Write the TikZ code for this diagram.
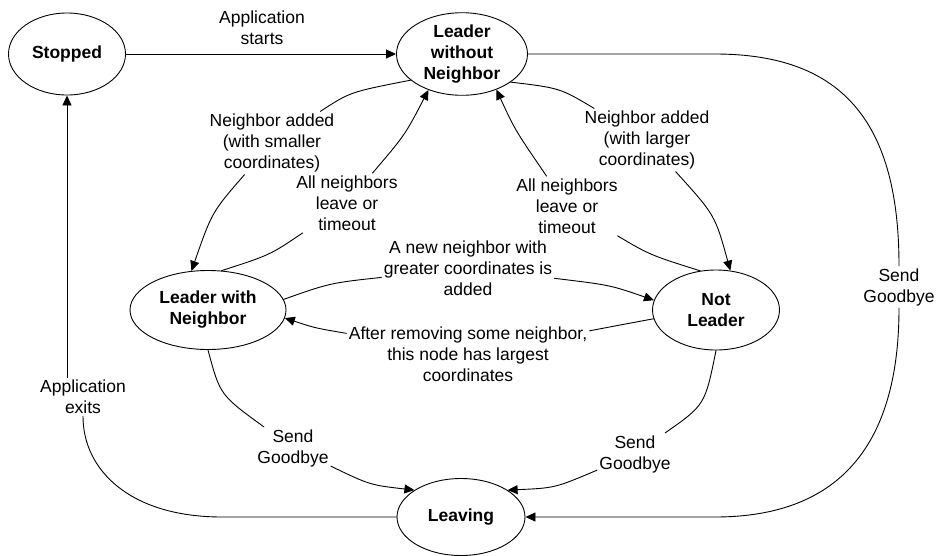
\documentclass[tikz,border=0pt]{standalone}
\usepackage{fontspec}
\setmainfont{Liberation Sans}
\usepackage{tikz}
\usetikzlibrary{shapes.geometric}
\usetikzlibrary{arrows.meta}

\begin{document}
\begin{tikzpicture}[line cap=round,line join=round,>={Triangle[length=10pt,width=9pt]},x=1pt,y=1pt,line width=0.9pt,
stnode/.style={draw,ellipse,inner sep=0pt,align=center,font=\fontsize{17.5}{21}\selectfont\bfseries},
lbl/.style={fill=white,inner sep=2pt,align=center,font=\fontsize{17.5}{21}\selectfont}]
\useasboundingbox (0,0) rectangle (937,-555);
\node[stnode,minimum width=117pt,minimum height=82pt] (stopped) at (67,-54) {Stopped};
\node[stnode,minimum width=131pt,minimum height=79pt] (lwon) at (462,-54) {Leader\\without\\Neighbor};
\node[stnode,minimum width=156pt,minimum height=79pt] (lwn) at (208,-310) {Leader with\\Neighbor};
\node[stnode,minimum width=127pt,minimum height=80pt] (nl) at (716,-310) {Not\\Leader};
\node[stnode,minimum width=128pt,minimum height=77pt] (leaving) at (461,-517) {Leaving};
\node[lbl] (lStart) at (262,-28) {Application\\starts};
\node[lbl] (lSmall) at (272,-143) {Neighbor added\\(with smaller\\coordinates)};
\node[lbl] (lLeaveL) at (347,-203) {All neighbors\\leave or\\timeout};
\node[lbl] (lLarge) at (647,-140) {Neighbor added\\(with larger\\coordinates)};
\node[lbl] (lLeaveR) at (567,-206) {All neighbors\\leave or\\timeout};
\node[lbl] (lNew) at (468,-268) {A new neighbor with\\greater coordinates is\\added};
\node[lbl] (lRemove) at (468,-354) {After removing some neighbor,\\this node has largest\\coordinates};
\node[lbl] (lByeL) at (293,-448) {Send\\Goodbye};
\node[lbl] (lByeM) at (635,-454) {Send\\Goodbye};
\node[lbl] (lByeR) at (899,-287) {Send\\Goodbye};
\node[lbl] (lExit) at (83,-397) {Application\\exits};
\coordinate (exitturn) at (222,-517);
\coordinate (byeturnA) at (715,-54);
\coordinate (byeturnB) at (715,-517);
\draw[->] (stopped) -- (lwon);
\draw (lwon.207) .. controls (350,-92) .. (lSmall);
\draw[->] (lSmall) .. controls (212,-212) .. (lwn.113);
\draw (lwn.71) .. controls (270,-255) .. (lLeaveL);
\draw[->] (lLeaveL) .. controls (405,-135) .. (lwon.227);
\draw (lwon.330) .. controls (560,-88) .. (lLarge);
\draw[->] (lLarge) .. controls (715,-215) .. (nl.70);
\draw (nl.112) .. controls (650,-255) .. (lLeaveR);
\draw[->] (lLeaveR) .. controls (515,-130) .. (lwon.314);
\draw (lwn.8) .. controls (330,-283) .. (lNew);
\draw[->] (lNew) .. controls (610,-285) .. (nl.171);
\draw (nl.188) .. controls (620,-325) .. (lRemove);
\draw[->] (lRemove) .. controls (315,-328) .. (lwn.354);
\draw (lwn.270) .. controls (220,-395) .. (lByeL);
\draw[->] (lByeL) .. controls (370,-485) .. (leaving.150);
\draw (nl.270) .. controls (705,-405) .. (lByeM);
\draw[->] (lByeM) .. controls (555,-488) .. (leaving.30);
\draw (leaving.180) -- (exitturn) .. controls (130,-517) and (83,-470) .. (lExit.south);
\draw[->] (lExit.north -| stopped.south) -- (stopped.south);
\draw (lwon.east) -- (byeturnA) .. controls (845,-54) and (899,-125) .. (lByeR.north);
\draw[->] (lByeR.south) .. controls (899,-450) and (835,-517) .. (byeturnB) -- (leaving.east);
\end{tikzpicture}
\end{document}
